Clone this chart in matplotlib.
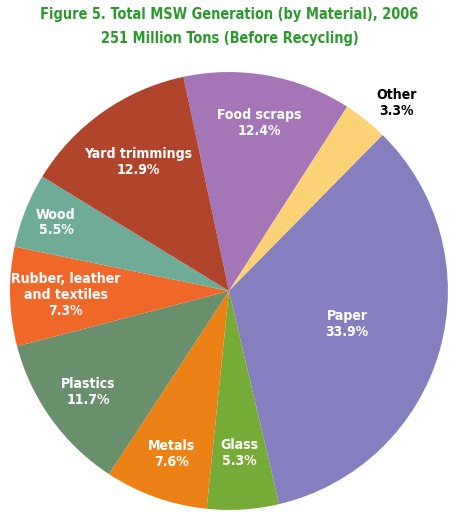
import matplotlib.pyplot as plt
import numpy as np
from matplotlib import font_manager
from matplotlib.font_manager import FontProperties

# slices go clockwise, starting with Food scraps at the top
materials = ["Food scraps", "Other", "Paper", "Glass", "Metals", "Plastics",
             "Rubber, leather\nand textiles", "Wood", "Yard trimmings"]
shares = [12.4, 3.3, 33.9, 5.3, 7.6, 11.7, 7.3, 5.5, 12.9]
colors = ["#A476B8", "#FBD376", "#857FC0", "#76AB37", "#EC8216", "#6A8F6C",
          "#F0672A", "#6FAC98", "#B0452C"]

# where each label sits: fraction of radius, and angle nudge in degrees
label_dist = [0.78, 1.15, 0.56, 0.74, 0.79, 0.79, 0.745, 0.85, 0.72]
label_turn = [0, -3, 0, 0, 0, 0, 0, 0, 0]

title1 = "Figure 5. Total MSW Generation (by Material), 2006"
title2 = "251 Million Tons (Before Recycling)"


def pick_font():
    # prefer a condensed bold face, otherwise a narrow-ish sans
    cond = []
    for f in font_manager.fontManager.ttflist:
        w = f.weight if isinstance(f.weight, int) else 400
        if w >= 600 and ("ondensed" in f.name or "arrow" in f.name
                         or str(f.stretch) in ("condensed", "semi-condensed")):
            cond.append(f)
    if cond:
        return FontProperties(fname=cond[0].fname)
    return FontProperties(family="Roboto", weight="bold")


fp = pick_font()

fig = plt.figure(figsize=(4.59, 5.31), dpi=100)
renderer = fig.canvas.get_renderer()


def fit_size(s, target_px):
    t = fig.text(0, 0, s, fontproperties=fp, fontsize=10)
    w = t.get_window_extent(renderer).width
    t.remove()
    return 10 * target_px / w


lab_size = fit_size("Yard trimmings", 108)
tit_size = fit_size(title1, 378)
lab_space = 19 / (lab_size * 100 / 72 * 1.17)

ax = fig.add_axes([0.0218, 0.0395, 0.954, 0.825])
wedges, _ = ax.pie(shares, colors=colors, startangle=102, counterclock=False,
                   radius=1.0, wedgeprops=dict(linewidth=0))
ax.set_xlim(-1, 1)
ax.set_ylim(-1, 1)
ax.set_aspect("equal")

for w, name, val, d, turn in zip(wedges, materials, shares, label_dist, label_turn):
    ang = np.deg2rad((w.theta1 + w.theta2) / 2 + turn)
    x, y = d * np.cos(ang), d * np.sin(ang)
    col = "black" if name == "Other" else "white"
    ax.text(x, y, f"{name}\n{val}%", ha="center", va="center", color=col,
            fontproperties=fp, fontsize=lab_size, linespacing=lab_space)

fig.text(0.5, 1 - 15 / 531, title1, ha="center", va="center",
         color="#2A9A2A", fontproperties=fp, fontsize=tit_size)
fig.text(0.5, 1 - 38 / 531, title2, ha="center", va="center",
         color="#2A9A2A", fontproperties=fp, fontsize=tit_size)

fig.savefig("out.png", dpi=100)
